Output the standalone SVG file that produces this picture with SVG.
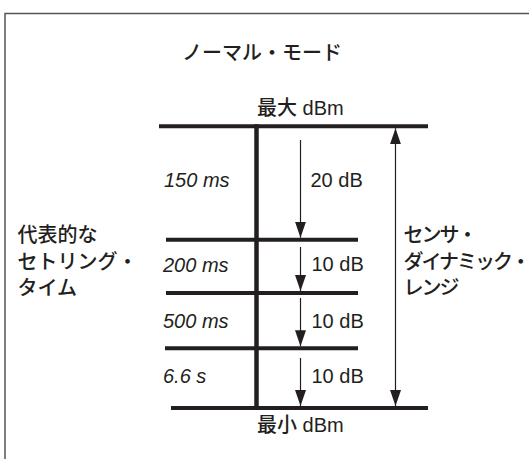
<svg xmlns="http://www.w3.org/2000/svg" width="529" height="459" viewBox="0 0 529 459">
  <style>
    .t { font-family: "Liberation Sans", "Noto Sans CJK JP", sans-serif; font-size: 20px; fill: #231f20; }
    .j { font-family: "Noto Sans CJK JP", sans-serif; font-weight: 500; }
    .n { letter-spacing: -2px; }
    .i { font-style: italic; }
    .bar { stroke: #231f20; stroke-width: 4; fill: none; }
    .thin { stroke: #231f20; stroke-width: 1.2; fill: none; }
  </style>
  <defs>
    <marker id="ah" viewBox="0 0 16 11" refX="16" refY="5.5" markerWidth="16" markerHeight="11" markerUnits="userSpaceOnUse" orient="auto-start-reverse">
      <path d="M0,0 L16,5.5 L0,11 Z" fill="#231f20"/>
    </marker>
  </defs>
  <rect width="529" height="459" fill="#ffffff"/>
  <g id="frame">
    <rect x="5" y="13.5" width="560" height="480" fill="none" stroke="#555555" stroke-width="1.5"/>
  </g>
  <g id="title">
    <text class="t j" x="182" y="60" font-size="20.5">ノーマル・モード</text>
  </g>
  <g id="max-level">
    <text class="t" x="257" y="114.5"><tspan class="j">最大</tspan> dBm</text>
    <line class="bar" x1="159" y1="126.3" x2="428" y2="126.3"/>
  </g>
  <g id="level-2">
    <line class="bar" x1="166" y1="239.7" x2="358" y2="239.7"/>
  </g>
  <g id="level-3">
    <line class="bar" x1="166" y1="293" x2="358" y2="293"/>
  </g>
  <g id="level-4">
    <line class="bar" x1="165" y1="348.3" x2="358" y2="348.3"/>
  </g>
  <g id="min-level">
    <line class="bar" x1="171" y1="408" x2="428" y2="408"/>
    <text class="t" x="257" y="431.5"><tspan class="j">最小</tspan> dBm</text>
  </g>
  <g id="axis">
    <line x1="256.5" y1="124.3" x2="256.5" y2="410" stroke="#231f20" stroke-width="4.5"/>
  </g>
  <g id="settling-times">
    <text class="t i" x="164" y="186.5">150 ms</text>
    <text class="t i" x="163" y="271.5">200 ms</text>
    <text class="t i" x="163" y="328.3">500 ms</text>
    <text class="t i" x="163" y="383.3">6.6 s</text>
  </g>
  <g id="steps">
    <text class="t" x="310.5" y="186.5">20 dB</text>
    <text class="t" x="311.5" y="270.5">10 dB</text>
    <text class="t" x="311.5" y="327.7">10 dB</text>
    <text class="t" x="311.5" y="382.7">10 dB</text>
  </g>
  <g id="label-settling">
    <text class="t j" x="17.5" y="242">代表的な</text>
    <text class="t j" x="17.5" y="268.5">セトリング・</text>
    <text class="t j" x="17.5" y="294.5">タイム</text>
  </g>
  <g id="label-range">
    <text class="t j n" x="403.5" y="242">センサ・</text>
    <text class="t j n" x="403.5" y="268.5">ダイナミック・</text>
    <text class="t j n" x="403.5" y="294.5">レンジ</text>
  </g>
  <g id="connectors">
    <line class="thin" x1="300.5" y1="140" x2="300.5" y2="237.7" marker-end="url(#ah)"/>
    <line class="thin" x1="300.5" y1="247" x2="300.5" y2="291" marker-end="url(#ah)"/>
    <line class="thin" x1="300.5" y1="298" x2="300.5" y2="346.3" marker-end="url(#ah)"/>
    <line class="thin" x1="300.5" y1="358" x2="300.5" y2="406" marker-end="url(#ah)"/>
    <line class="thin" x1="395.5" y1="128.3" x2="395.5" y2="406" marker-start="url(#ah)" marker-end="url(#ah)"/>
  </g>
</svg>
